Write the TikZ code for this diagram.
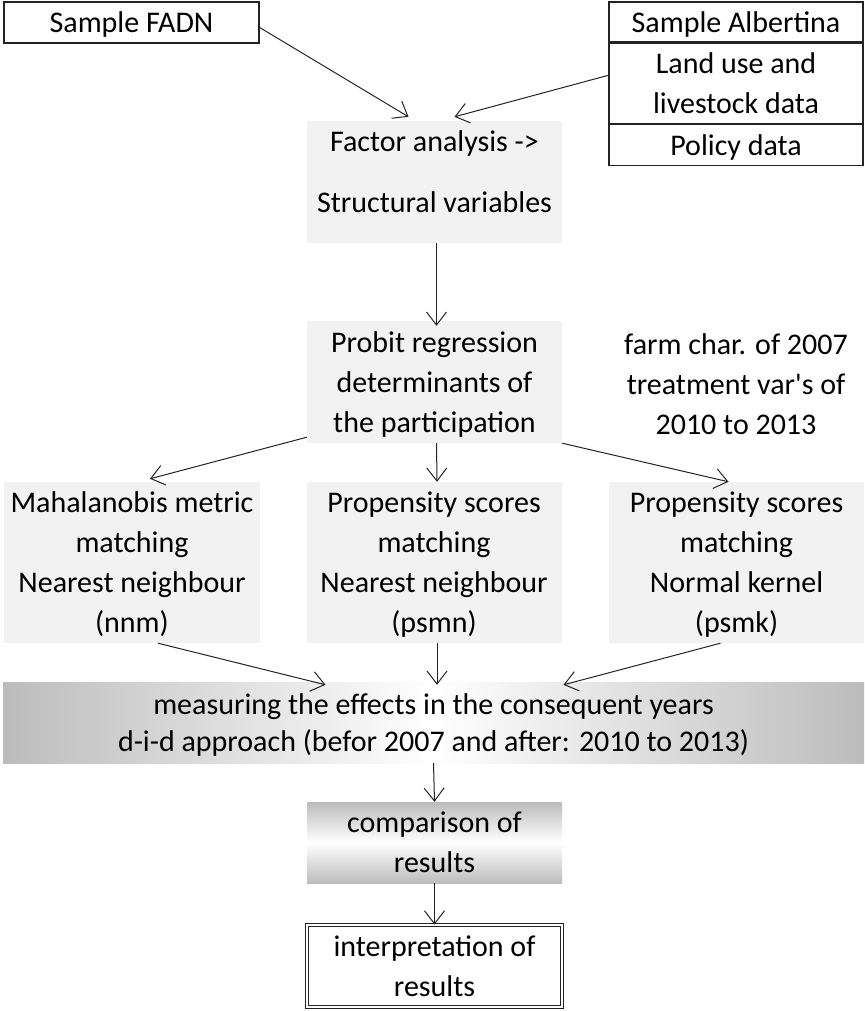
\documentclass[tikz,border=0pt]{standalone}
\usepackage{fontspec}
\setmainfont{Carlito}[Ligatures=TeXOff]
\usetikzlibrary{arrows.meta,positioning}
\definecolor{pale}{RGB}{242,242,242}
\definecolor{shade}{RGB}{188,188,188}
\definecolor{ink}{RGB}{35,35,35}
\tikzset{
  >={Straight Barb[length=13pt,width=20pt]},
  txt/.style={font=\fontsize{30}{40}\selectfont,align=center,text=black,inner sep=0pt,text depth=0pt},
  plainbox/.style={txt,draw=ink,line width=1.3pt},
  pale box/.style={txt,fill=pale,minimum width=255pt},
  wide shade/.style={txt,font=\fontsize{30}{37}\selectfont,left color=shade,right color=shade,middle color=white,
    minimum width=861pt,minimum height=81pt},
  tall shade/.style={txt,top color=shade,bottom color=shade,middle color=white,
    minimum width=255pt,minimum height=81pt},
  double box/.style={txt,draw=ink,line width=0.8pt,double,double distance=2.4pt,
    minimum width=255pt,minimum height=82pt},
  note/.style={txt},
  flow/.style={->,line width=1pt,draw=ink},
}
\begin{document}
\begin{tikzpicture}[x=1pt,y=-1pt]
  \useasboundingbox (0,0) rectangle (864,1011);
  % data sources
  \node[plainbox,minimum width=255pt,minimum height=41pt] (fadn) at (131.5,22.5) {Sample FADN};
  \node[plainbox,minimum width=254pt,minimum height=40pt] (alb) at (736,22) {Sample Albertina};
  \node[plainbox,minimum width=254pt,minimum height=80pt,below=0pt of alb] (land) {Land use and\\livestock data};
  \node[plainbox,minimum width=254pt,minimum height=41pt,below=0pt of land] (pol) {Policy data};
  % factor analysis and probit
  \node[pale box,minimum height=122pt,text depth=20pt] (factor) at (434.5,182) {Factor analysis ->\\[21pt]Structural variables};
  \node[pale box,minimum height=122pt] (probit) at (434.5,382) {Probit regression\\determinants of\\the participation};
  \node[note] (chars) at (736,384) {farm char. of 2007\\treatment var's of\\2010 to 2013};
  % matching methods
  \node[pale box,minimum width=256pt,minimum height=161pt] (nnm) at (132,562.5) {Mahalanobis metric\\matching\\Nearest neighbour\\(nnm)};
  \node[pale box,minimum height=161pt] (psmn) at (434,562.5) {Propensity scores\\matching\\Nearest neighbour\\(psmn)};
  \node[pale box,minimum height=161pt] (psmk) at (736.5,562.5) {Propensity scores\\matching\\Normal kernel\\(psmk)};
  % effects and results
  \node[wide shade] (meas) at (433.5,722.5) {measuring the effects in the consequent years\\d-i-d approach (befor 2007 and after: 2010 to 2013)};
  \node[tall shade] (comp) at (434.5,842.5) {comparison of\\results};
  \node[double box] (interp) at (434.5,966) {interpretation of\\results};
  % connectors
  \draw[flow] ([yshift=-5pt]fadn.east) -- ([xshift=-26pt,yshift=4pt]factor.north);
  \draw[flow] ([yshift=8pt]land.west) -- ([xshift=20pt,yshift=4pt]factor.north);
  \draw[flow] ([xshift=2pt]factor.south) -- ([xshift=2pt,yshift=-5pt]probit.north);
  \draw[flow] ([yshift=6pt]probit.south west) -- ([xshift=18pt,yshift=3pt]nnm.north);
  \draw[flow] ([xshift=2pt]probit.south) -- ([xshift=3pt]psmn.north);
  \draw[flow] (probit.south east) -- ([xshift=-8pt]psmk.north);
  \draw[flow] ([xshift=26pt]nnm.south) -- ([xshift=-108pt,yshift=-3pt]meas.north);
  \draw[flow] ([xshift=3pt]psmn.south) -- ([xshift=3.5pt,yshift=-3pt]meas.north);
  \draw[flow] ([xshift=-16pt]psmk.south) -- ([xshift=130pt,yshift=-3pt]meas.north);
  \draw[flow] (meas.south) -- (comp.north);
  \draw[flow] (comp.south) -- (interp.north);
\end{tikzpicture}
\end{document}
